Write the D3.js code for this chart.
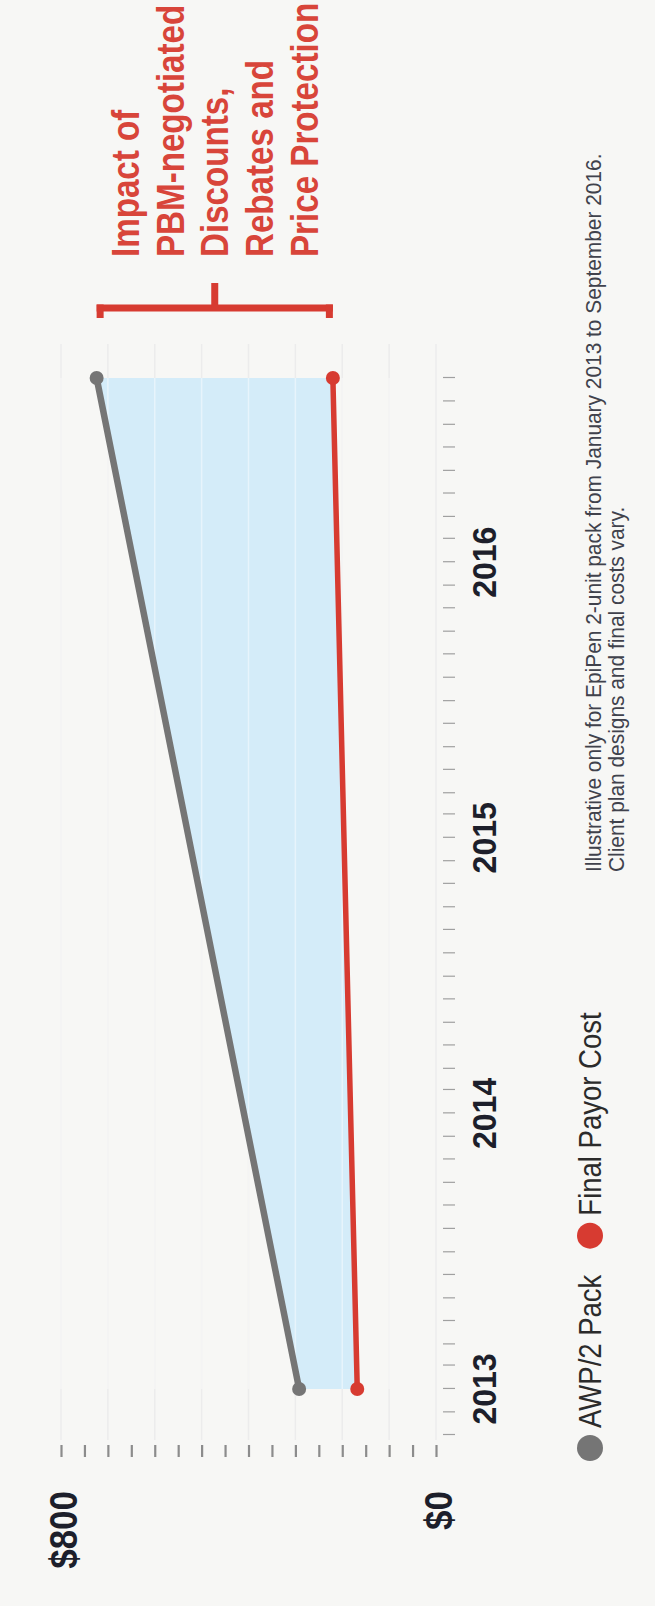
<!DOCTYPE html>
<html>
<head>
<meta charset="utf-8">
<script src="https://cdn.jsdelivr.net/npm/d3@7"></script>
<style>
  html, body { margin: 0; padding: 0; background: #f7f7f5; }
  svg { display: block; }
  text { font-family: "Liberation Sans", Arial, Helvetica, sans-serif; }
</style>
</head>
<body>
<svg id="chart" width="655" height="1606"></svg>
<script>
// ---- data ----
const seriesNames = ["AWP/2 Pack", "Final Payor Cost"];
const pointDates = ["2013-01-01", "2016-09-01"];
const awpValues = [292, 724];
const payorValues = [168, 220];
const valueTickLabels = [0, 800];
const yearLabels = [2013, 2014, 2015, 2016];
const annotationLines = ["Impact of", "PBM-negotiated", "Discounts,", "Rebates and", "Price Protection"];
const footnoteLines = [
  "Illustrative only for EpiPen 2-unit pack from January 2013 to September 2016.",
  "Client plan designs and final costs vary."
];

const colors = { awp: "#757575", payor: "#d73b31", fill: "#d4ecf9", text: "#1d1f2b", note: "#d8453a" };

// The chart is laid out landscape (time across, dollars up) and turned a quarter turn
// so that it reads bottom-to-top on the portrait page.
const PAGE_W = 655, PAGE_H = 1606;
const svg = d3.select("#chart");
const g = svg.append("g").attr("transform", `translate(0,${PAGE_H}) rotate(-90)`);

// Narrow-set type: glyphs are drawn with a horizontal squeeze around their anchor.
function place(sel, fx, fy, sx) {
  return sel.attr("x", 0).attr("y", 0)
    .attr("transform", (d, i) => `translate(${fx(d, i)},${fy(d, i)}) scale(${sx},1)`);
}

const parse = d3.utcParse("%Y-%m-%d");
const rows = pointDates.map((d, i) => ({ date: parse(d), awp: awpValues[i], payor: payorValues[i] }));

// Monthly axis from Nov 2012 through Sep 2016
const x = d3.scaleUtc()
  .domain([Date.UTC(2012, 10, 1), Date.UTC(2016, 8, 1)])
  .range([171, 1228]);
const y = d3.scaleLinear().domain([0, 800]).range([436, 61]);

// gridlines every $100
g.append("g")
  .selectAll("line")
  .data(d3.range(0, 801, 100))
  .join("line")
  .attr("x1", 166).attr("x2", 1262)
  .attr("y1", d => y(d)).attr("y2", d => y(d))
  .attr("stroke", "#ececec").attr("stroke-width", 1.5);

// shaded gap between list price and final cost
g.append("path")
  .datum(rows)
  .attr("fill", colors.fill)
  .attr("d", d3.area().x(d => x(d.date)).y0(d => y(d.payor)).y1(d => y(d.awp)));

// thin white gridlines show through the shading
g.append("g")
  .selectAll("line")
  .data(d3.range(100, 801, 100))
  .join("line")
  .attr("x1", x(rows[0].date)).attr("x2", x(rows[rows.length - 1].date))
  .attr("y1", d => y(d)).attr("y2", d => y(d))
  .attr("stroke", "#ffffff").attr("stroke-opacity", 0.45).attr("stroke-width", 1.5);

// value axis: short tick marks every $50
const yAxis = g.append("g")
  .attr("transform", "translate(161,0)")
  .call(d3.axisLeft(y).tickValues(d3.range(0, 801, 50)).tickSize(12).tickFormat(""));
yAxis.select(".domain").remove();
yAxis.selectAll(".tick line").attr("stroke", "#8c8c8c").attr("stroke-width", 2.2);

place(g.append("g")
  .selectAll("text")
  .data(valueTickLabels)
  .join("text")
  .attr("text-anchor", "end")
  .attr("dominant-baseline", "central")
  .attr("font-size", 38).attr("font-weight", "bold")
  .attr("fill", colors.text)
  .text(d => d3.format("$,")(d)), () => 115, d => y(d) + 3, 0.92);

// time axis: monthly tick marks
const xAxis = g.append("g")
  .attr("transform", "translate(0,443)")
  .call(d3.axisBottom(x).ticks(d3.utcMonth.every(1)).tickSize(12).tickFormat(""));
xAxis.select(".domain").remove();
xAxis.selectAll(".tick line").attr("stroke", "#a0a0a0").attr("stroke-width", 1.2);

place(g.append("g")
  .selectAll("text")
  .data(yearLabels)
  .join("text")
  .attr("text-anchor", "middle")
  .attr("font-size", 33).attr("font-weight", "bold")
  .attr("fill", colors.text)
  .text(d => d), d => x(new Date(Date.UTC(d, 0, 1))), () => 496, 0.97);

// series lines and end points
const series = [
  { key: "awp", color: colors.awp, width: 6.5 },
  { key: "payor", color: colors.payor, width: 5.5 }
];
series.forEach(s => {
  g.append("path")
    .datum(rows)
    .attr("fill", "none")
    .attr("stroke", s.color)
    .attr("stroke-width", s.width)
    .attr("stroke-linecap", "round")
    .attr("d", d3.line().x(d => x(d.date)).y(d => y(d[s.key])));
  g.append("g")
    .selectAll("circle")
    .data(rows)
    .join("circle")
    .attr("cx", d => x(d.date)).attr("cy", d => y(d[s.key]))
    .attr("r", 7)
    .attr("fill", s.color);
});

// bracket spanning the final gap
const last = rows[rows.length - 1];
const bTop = y(last.awp), bBot = y(last.payor), bU = 1298, bw = 7;
const bracket = g.append("g").attr("fill", colors.payor);
bracket.append("rect").attr("x", bU - bw / 2).attr("y", bTop).attr("width", bw).attr("height", bBot - bTop);
bracket.append("rect").attr("x", bU - 10).attr("y", bTop).attr("width", 10 + bw / 2).attr("height", bw);
bracket.append("rect").attr("x", bU - 10).attr("y", bBot - bw).attr("width", 10 + bw / 2).attr("height", bw);
bracket.append("rect").attr("x", bU).attr("y", (bTop + bBot) / 2 - bw / 2).attr("width", 25).attr("height", bw);

place(g.append("g")
  .selectAll("text")
  .data(annotationLines)
  .join("text")
  .attr("font-size", 39).attr("font-weight", "bold")
  .attr("fill", colors.note)
  .text(d => d), () => 1349, (d, i) => 139 + i * 44.7, 0.85);

// legend
const legend = g.append("g").attr("transform", "translate(158,590)");
let cursor = 0;
[{ name: seriesNames[0], color: colors.awp }, { name: seriesNames[1], color: colors.payor }].forEach(item => {
  legend.append("circle").attr("cx", cursor).attr("cy", 0).attr("r", 13).attr("fill", item.color);
  const sx = 0.86;
  const t = legend.append("text")
    .attr("transform", `translate(${cursor + 20},11) scale(${sx},1)`)
    .attr("font-size", 32).attr("fill", "#2b2b2b")
    .text(item.name);
  cursor += 20 + t.node().getComputedTextLength() * sx + 39;
});

// footnote
place(g.append("g")
  .selectAll("text")
  .data(footnoteLines)
  .join("text")
  .attr("font-size", 22).attr("fill", "#40424c")
  .text(d => d), () => 734, (d, i) => 601 + i * 23, 0.95);
</script>
</body>
</html>
